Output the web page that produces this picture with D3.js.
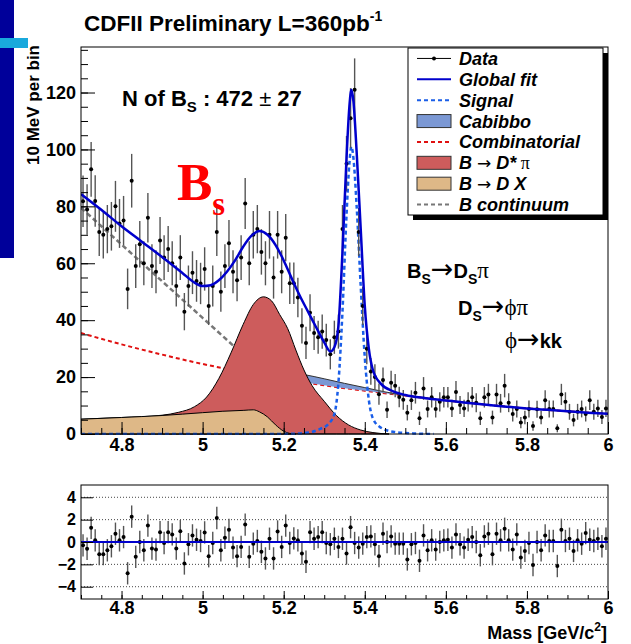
<!DOCTYPE html>
<html>
<head>
<meta charset="utf-8">
<script src="https://cdn.jsdelivr.net/npm/d3@7"></script>
<style>
  body { margin: 0; background: #fff; }
  svg { display: block; font-family: "Liberation Sans", Arial, Helvetica, sans-serif; }
  .axis text { font-weight: bold; fill: #000; }
  .axis path { display: none; }
  .axis line { stroke: #000; }
</style>
</head>
<body>
<div id="chart"></div>
<script>
// ---- data ----
// events per 10 MeV bin, 4.70 .. 6.00 GeV/c^2 (130 bins)
var counts = [
  81.8, 78.9, 93, 81.9, 71, 70, 72, 73, 80, 74,
  75, 51, 89, 59, 66.7, 60, 76, 59, 57, 68,
  62, 65, 60, 52, 62, 43, 52, 56.7, 53.8, 52.9,
  58, 45, 52, 71, 50, 59, 67, 57, 54, 62,
  81, 60, 70, 72, 64, 60, 70, 55, 70, 57,
  69, 53, 53, 48, 38, 32, 42.6, 35.5, 34, 36,
  33, 28, 34, 36, 72, 95, 111, 121, 71, 45,
  30, 22, 20, 14, 19, 8.5, 18, 17, 13, 12,
  7.5, 11.9, 14.5, 5.5, 16, 8.8, 12.9, 8.8, 11.3, 12.9,
  12.9, 9, 14.8, 10.2, 9, 11.3, 12.9, 11, 5.5, 12.9,
  13.9, 5.8, 13.9, 10.8, 17, 11, 7, 8.8, 4, 5.8,
  8.8, 2.8, 8.7, 5.8, 11.9, 8.8, 8.8, 2, 13.9, 11.3,
  7.8, 4.9, 7.8, 8.8, 7, 11.9, 7.8, 9, 6, 9
];

// residuals (data - fit) / sigma, same bins
var residuals = [
  -0.3, -0.6, 1.27, 0.15, -1.09, -1.09, -0.74, -0.38, 0.74, 0.15,
  0.44, -2.8, 2.27, -1.33, 0, -0.74, 1.47, -0.59, -0.68, 0.88,
  -0.09, 0.88, 0.68, -0.59, 0.97, -1.92, -0.2, 0.59, 0.2, 0.09,
  0.86, -1.27, -0.09, 2.15, -0.74, 0.38, 1.09, -0.5, -1.27, -0.44,
  1.56, -1.33, -0.15, 0.09, -0.88, -1.47, 0.29, -1.47, 0.94, -0.44,
  1.47, -0.09, 0.32, 0.15, -1.03, -1.77, 0.88, 0.29, 0.44, 0.88,
  -0.09, -0.2, 0.29, -0.44, 0.29, -1.03, 1.33, -0.09, -0.5, -0.15,
  0.44, 0.5, -0.2, -1.27, 0.74, 0, 0.5, -0.15, -0.15, -0.15,
  -1.56, -0.2, -0.09, -1.68, 0.59, -0.74, 0.15, -0.68, 0, 0.15,
  0.2, -0.5, 0.68, -0.2, -0.5, 0.2, 0.44, 0, -1.18, 0.5,
  0.74, -1.09, 0.74, 0.15, 1.18, 0.15, -0.68, 0.68, -1.39, -0.8,
  -0.09, -2.06, 0, -0.74, 0.59, 0.09, 0.09, -2.15, 1.09, 0.09,
  0.29, -0.8, 0.15, -0.15, 0.8, 0.2, 0.09, 0.29, -0.38, 0.29
];

var binStart = 4.70, binWidth = 0.01;

// fit components, [mass, events/bin]
var globalFit = [[4.70,84.3],[4.75,78.8],[4.80,73.0],[4.85,67.6],[4.90,62.2],[4.95,56.6],[4.98,53.2],[5.00,52.0],
  [5.02,52.3],[5.04,54.0],[5.06,57.0],[5.08,61.0],[5.10,65.8],[5.12,69.6],[5.14,71.3],[5.16,70.0],[5.18,66.4],
  [5.20,61.0],[5.22,54.6],[5.24,48.5],[5.26,43.0],[5.28,37.5],[5.30,32.2],[5.315,29.0],[5.325,30.5],[5.335,38],
  [5.345,64],[5.355,97],[5.362,115],[5.367,121],[5.372,117],[5.38,99],[5.39,72],[5.40,45],[5.41,30],[5.42,22.5],
  [5.44,17.6],[5.47,15.0],[5.50,13.7],[5.55,12.6],[5.60,11.8],[5.65,11.0],[5.70,10.3],[5.75,9.6],[5.80,9.0],
  [5.85,8.5],[5.90,8.0],[5.95,7.5],[6.00,7.1]];
var signalFit = [[4.70,0],[5.20,0],[5.26,0.5],[5.29,1.8],[5.31,3.5],[5.325,7],[5.335,18],[5.345,43],[5.355,77],
  [5.362,95],[5.367,101],[5.372,97],[5.38,80],[5.39,52],[5.40,27],[5.41,12],[5.42,5.5],[5.44,2.2],[5.47,0.8],
  [5.52,0.2],[5.57,0]];
var combFit = [[4.70,35.5],[4.80,31.5],[4.90,27.9],[5.00,24.6],[5.10,21.8],[5.20,19.3],[5.30,17.1],[5.40,15.2],
  [5.50,13.5],[5.60,11.8],[5.70,10.3],[5.80,9.0],[5.90,8.0],[6.00,7.1]];
var cabMass = [5.10, 5.20, 5.25, 5.30, 5.35, 5.40, 5.45, 5.50];
var cabLow  = [21.8, 19.3, 18.2, 17.1, 16.1, 15.2, 14.3, 13.5];
var cabHigh = [23.8, 22.0, 20.9, 19.4, 17.8, 16.3, 14.8, 13.5];
var continuumFit = [[4.70,79.5],[4.80,66.6],[4.90,53.7],[5.00,40.8],[5.10,27.9],[5.15,21.5]];
var dstarTop = [[4.70,5.2],[4.80,5.8],[4.90,6.6],[4.94,7.6],[4.98,9.6],[5.01,13],[5.04,19.5],[5.07,28.5],[5.10,38.5],
  [5.125,45.5],[5.15,48.2],[5.17,46.8],[5.19,42],[5.21,37],[5.23,29.5],[5.25,22.5],[5.27,17],[5.30,11.5],
  [5.33,6.5],[5.36,3.2],[5.39,1.4],[5.42,0.5],[5.46,0]];
var dxTop = [[4.70,5.2],[4.80,5.8],[4.90,6.5],[5.00,7.5],[5.05,8.0],[5.10,8.3],[5.125,8.5],[5.14,7.8],[5.16,6.0],
  [5.18,3.2],[5.20,1.0],[5.215,0.2],[5.23,0]];

var massTicks = [4.8, 5.0, 5.2, 5.4, 5.6, 5.8, 6.0];
var yTicks = [0, 20, 40, 60, 80, 100, 120];
var resTicks = [-4, -2, 0, 2, 4];

var legendItems = [
  {label: "Data", kind: "data"},
  {label: "Global fit", kind: "line", color: "#0000cc", dash: null},
  {label: "Signal", kind: "line", color: "#1a5ee8", dash: "4,3"},
  {label: "Cabibbo", kind: "box", color: "#7b98d4"},
  {label: "Combinatorial", kind: "line", color: "#e01010", dash: "4,3"},
  {label: "dstar", kind: "box", color: "#cd5c5c"},
  {label: "dx", kind: "box", color: "#deb887"},
  {label: "B continuum", kind: "line", color: "#777", dash: "4,3"}
];

// ---- layout ----
var W = 631, H = 644;
var frame = {left: 81, right: 608, top: 47, bottom: 434};
var resFrame = {left: 81, right: 608, top: 485, bottom: 599};
var arrowFont = "'DejaVu Sans', sans-serif";
var greekFont = "'Liberation Serif', 'Times New Roman', serif";

var svg = d3.select("#chart").append("svg")
    .attr("width", W)
    .attr("height", H);

// slide decoration on the left
svg.append("rect").attr("x", 0).attr("y", 0).attr("width", 14).attr("height", 258).attr("fill", "#00009a");
svg.append("rect").attr("x", 0).attr("y", 38).attr("width", 28).attr("height", 10).attr("fill", "#19a9dc");

var x = d3.scaleLinear().domain([4.70, 6.00]).range([frame.left, frame.right]);
var y = d3.scaleLinear().domain([0, 136]).range([frame.bottom, frame.top]);
var yr = d3.scaleLinear().domain([-5.1, 5.1]).range([resFrame.bottom, resFrame.top]);

var bins = counts.map(function(c, i) {
    return {m: binStart + (i + 0.5) * binWidth, n: c, r: residuals[i]};
});

// ---- main panel ----
svg.append("clipPath").attr("id", "clipMain")
    .append("rect")
    .attr("x", frame.left).attr("y", frame.top - 1)
    .attr("width", frame.right - frame.left).attr("height", frame.bottom - frame.top + 2);

var g = svg.append("g").attr("clip-path", "url(#clipMain)");

var line = d3.line()
    .x(function(d) { return x(d[0]); })
    .y(function(d) { return y(d[1]); })
    .curve(d3.curveMonotoneX);

var area = d3.area()
    .x(function(d) { return x(d[0]); })
    .y0(y(0))
    .y1(function(d) { return y(d[1]); })
    .curve(d3.curveMonotoneX);

// combinatorial and continuum first, the filled shapes cover them
g.append("path").datum(combFit)
    .attr("d", line).attr("fill", "none")
    .attr("stroke", "#e01010").attr("stroke-width", 2).attr("stroke-dasharray", "4,3");

g.append("path").datum(continuumFit)
    .attr("d", line).attr("fill", "none")
    .attr("stroke", "#777").attr("stroke-width", 2.5).attr("stroke-dasharray", "5,3");

var cabArea = d3.area()
    .x(function(d, i) { return x(cabMass[i]); })
    .y0(function(d, i) { return y(cabLow[i]); })
    .y1(function(d, i) { return y(cabHigh[i]); })
    .curve(d3.curveMonotoneX);

g.append("path").datum(cabMass)
    .attr("d", cabArea)
    .attr("fill", "#7b98d4");
g.append("path").datum(cabMass.map(function(m, i) { return [m, cabHigh[i]]; }))
    .attr("d", line).attr("fill", "none").attr("stroke", "#333").attr("stroke-width", 1);

g.append("path").datum(dstarTop)
    .attr("d", area)
    .attr("fill", "#cd5c5c")
    .attr("stroke", "#000").attr("stroke-width", 1);

g.append("path").datum(dxTop)
    .attr("d", area)
    .attr("fill", "#deb887")
    .attr("stroke", "#000").attr("stroke-width", 1);

g.append("path").datum(signalFit)
    .attr("d", line).attr("fill", "none")
    .attr("stroke", "#1a5ee8").attr("stroke-width", 2.5).attr("stroke-dasharray", "4,3");

// data points with sqrt(N) errors
var pts = g.append("g").selectAll("g").data(bins).join("g");
pts.append("line")
    .attr("x1", function(d) { return x(d.m); })
    .attr("x2", function(d) { return x(d.m); })
    .attr("y1", function(d) { return y(d.n + Math.sqrt(d.n)); })
    .attr("y2", function(d) { return y(Math.max(0, d.n - Math.sqrt(d.n))); })
    .attr("stroke", "#555").attr("stroke-width", 1.4);
pts.append("circle")
    .attr("cx", function(d) { return x(d.m); })
    .attr("cy", function(d) { return y(d.n); })
    .attr("r", 2).attr("fill", "#000");

g.append("path").datum(globalFit)
    .attr("d", line).attr("fill", "none")
    .attr("stroke", "#0000cc").attr("stroke-width", 2.5);

// frame
svg.append("rect")
    .attr("x", frame.left).attr("y", frame.top)
    .attr("width", frame.right - frame.left).attr("height", frame.bottom - frame.top)
    .attr("fill", "none").attr("stroke", "#000").attr("stroke-width", 1);

// axes
var yAxis = d3.axisLeft(y).tickValues(yTicks).tickSizeInner(-14).tickSizeOuter(0).tickPadding(5);
svg.append("g").attr("class", "axis")
    .attr("transform", "translate(" + frame.left + ",0)")
    .call(yAxis)
    .selectAll("text").style("font-size", "18px");
svg.append("g").attr("class", "axis")
    .attr("transform", "translate(" + frame.left + ",0)")
    .call(d3.axisLeft(y).tickValues(d3.range(0, 136, 5)).tickSizeInner(-7).tickSizeOuter(0).tickFormat(""));

var xAxis = d3.axisBottom(x).tickValues(massTicks).tickSizeInner(-12).tickSizeOuter(0).tickPadding(4)
    .tickFormat(function(d) { return d3.format("")(+d.toFixed(1)); });
svg.append("g").attr("class", "axis")
    .attr("transform", "translate(0," + frame.bottom + ")")
    .call(xAxis)
    .selectAll("text").style("font-size", "18px");
svg.append("g").attr("class", "axis")
    .attr("transform", "translate(0," + frame.bottom + ")")
    .call(d3.axisBottom(x).tickValues(d3.range(94, 121).map(function(v) { return v / 20; }))
        .tickSizeInner(-6).tickSizeOuter(0).tickFormat(""));

// y title
svg.append("text")
    .attr("transform", "translate(39,45) rotate(-90)")
    .attr("text-anchor", "end")
    .style("font-size", "17px").style("font-weight", "bold")
    .text("10 MeV per bin");

// title
var title = svg.append("text").attr("x", 84).attr("y", 31)
    .style("font-size", "22.5px").style("font-weight", "bold");
title.append("tspan").text("CDFII Preliminary L=360pb");
title.append("tspan").attr("dy", -10).style("font-size", "14px").text("-1");

// N of Bs
var nb = svg.append("text").attr("x", 122).attr("y", 106)
    .style("font-size", "22px").style("font-weight", "bold");
nb.append("tspan").text("N of B");
nb.append("tspan").attr("dy", 6).style("font-size", "15px").text("S");
nb.append("tspan").attr("dy", -6).text(" : 472 ");
nb.append("tspan").style("font-weight", "normal").text("\u00b1");
nb.append("tspan").text(" 27");

// big red Bs
var bs = svg.append("text").attr("x", 177).attr("y", 200)
    .style("font-family", greekFont)
    .style("font-weight", "bold").style("fill", "#ff0000").style("font-size", "53px");
bs.append("tspan").text("B");
bs.append("tspan").attr("dy", 15).style("font-size", "33px").text("s");

// decay chain
function decayText(xp, yp, parts) {
    var t = svg.append("text").attr("x", xp).attr("y", yp)
        .style("font-size", "20px").style("font-weight", "bold");
    parts.forEach(function(p) {
        var s = t.append("tspan").text(p.t);
        if (p.dy) s.attr("dy", p.dy);
        if (p.small) s.style("font-size", "14px");
        if (p.arrow) s.style("font-weight", "normal").style("font-size", "27px").style("font-family", arrowFont);
        if (p.greek) s.style("font-weight", "normal").style("font-size", "23px").style("font-family", greekFont);
    });
}
decayText(407, 278, [{t: "B"}, {t: "S", dy: 6, small: true}, {t: "\u2192", dy: -6, arrow: true},
    {t: "D"}, {t: "S", dy: 6, small: true}, {t: "\u03c0", dy: -6, greek: true}]);
decayText(458, 315, [{t: "D"}, {t: "S", dy: 6, small: true}, {t: "\u2192", dy: -6, arrow: true},
    {t: "\u03d5\u03c0", greek: true}]);
decayText(505, 348, [{t: "\u03d5", greek: true}, {t: "\u2192", arrow: true}, {t: "kk"}]);

// ---- legend ----
var leg = {x: 408, y: 48, w: 195, h: 167};
svg.append("rect").attr("x", leg.x + 5).attr("y", leg.y + 5).attr("width", leg.w).attr("height", leg.h).attr("fill", "#000");
svg.append("rect").attr("x", leg.x).attr("y", leg.y).attr("width", leg.w).attr("height", leg.h)
    .attr("fill", "#fff").attr("stroke", "#000").attr("stroke-width", 1);

var rowH = leg.h / legendItems.length;
legendItems.forEach(function(item, i) {
    var cy = leg.y + rowH * (i + 0.5);
    var x0 = leg.x + 9, x1 = leg.x + 43;
    if (item.kind === "data") {
        svg.append("line").attr("x1", x0).attr("x2", x1).attr("y1", cy).attr("y2", cy).attr("stroke", "#000").attr("stroke-width", 1);
        svg.append("circle").attr("cx", (x0 + x1) / 2).attr("cy", cy).attr("r", 2).attr("fill", "#000");
    } else if (item.kind === "line") {
        svg.append("line").attr("x1", x0).attr("x2", x1).attr("y1", cy).attr("y2", cy)
            .attr("stroke", item.color).attr("stroke-width", 2).attr("stroke-dasharray", item.dash);
    } else {
        svg.append("rect").attr("x", x0).attr("y", cy - 6.5).attr("width", x1 - x0).attr("height", 13)
            .attr("fill", item.color).attr("stroke", "#333").attr("stroke-width", 1);
    }
    var t = svg.append("text").attr("x", leg.x + 51).attr("y", cy + 6.5)
        .style("font-size", "18px").style("font-weight", "bold").style("font-style", "italic");
    if (item.label === "dstar" || item.label === "dx") {
        t.append("tspan").text("B ");
        t.append("tspan").style("font-weight", "normal").style("font-style", "normal")
            .style("font-size", "17px").style("font-family", arrowFont).text("\u2192");
        if (item.label === "dstar") {
            t.append("tspan").text(" D*");
            t.append("tspan").style("font-weight", "normal").style("font-style", "normal")
                .style("font-family", greekFont).text(" \u03c0");
        } else {
            t.append("tspan").text(" D X");
        }
    } else {
        t.text(item.label);
    }
});

// ---- residual panel ----
svg.append("g").selectAll("line.grid").data(resTicks.filter(function(v) { return v !== 0; })).join("line")
    .attr("x1", resFrame.left).attr("x2", resFrame.right)
    .attr("y1", function(d) { return yr(d); }).attr("y2", function(d) { return yr(d); })
    .attr("stroke", "#444").attr("stroke-width", 1).attr("stroke-dasharray", "1,2");

var rp = svg.append("g").selectAll("g").data(bins).join("g");
rp.append("line")
    .attr("x1", function(d) { return x(d.m); })
    .attr("x2", function(d) { return x(d.m); })
    .attr("y1", function(d) { return yr(d.r + 1); })
    .attr("y2", function(d) { return yr(d.r - 1); })
    .attr("stroke", "#555").attr("stroke-width", 1.4);
rp.append("circle")
    .attr("cx", function(d) { return x(d.m); })
    .attr("cy", function(d) { return yr(d.r); })
    .attr("r", 2).attr("fill", "#000");

svg.append("line")
    .attr("x1", resFrame.left).attr("x2", resFrame.right)
    .attr("y1", yr(0)).attr("y2", yr(0))
    .attr("stroke", "#0000cc").attr("stroke-width", 2);

svg.append("rect")
    .attr("x", resFrame.left).attr("y", resFrame.top)
    .attr("width", resFrame.right - resFrame.left).attr("height", resFrame.bottom - resFrame.top)
    .attr("fill", "none").attr("stroke", "#000").attr("stroke-width", 1);

svg.append("g").attr("class", "axis")
    .attr("transform", "translate(" + resFrame.left + ",0)")
    .call(d3.axisLeft(yr).tickValues(resTicks).tickSizeInner(-12).tickSizeOuter(0).tickPadding(5))
    .selectAll("text").style("font-size", "16px");

svg.append("g").attr("class", "axis")
    .attr("transform", "translate(0," + resFrame.bottom + ")")
    .call(d3.axisBottom(x).tickValues(massTicks).tickSizeInner(-8).tickSizeOuter(0).tickPadding(2)
        .tickFormat(function(d) { return d3.format("")(+d.toFixed(1)); }))
    .selectAll("text").style("font-size", "18px");
svg.append("g").attr("class", "axis")
    .attr("transform", "translate(0," + resFrame.bottom + ")")
    .call(d3.axisBottom(x).tickValues(d3.range(94, 121).map(function(v) { return v / 20; }))
        .tickSizeInner(-4).tickSizeOuter(0).tickFormat(""));

var mt = svg.append("text").attr("x", 607).attr("y", 639).attr("text-anchor", "end")
    .style("font-size", "18px").style("font-weight", "bold");
mt.append("tspan").text("Mass [GeV/c");
mt.append("tspan").attr("dy", -8).style("font-size", "12px").text("2");
mt.append("tspan").attr("dy", 8).text("]");
</script>
</body>
</html>
